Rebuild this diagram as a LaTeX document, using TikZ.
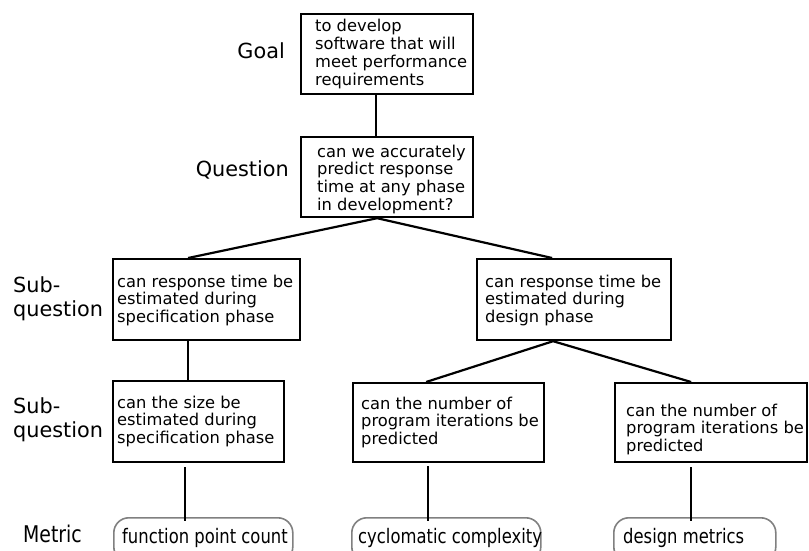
\documentclass[tikz,border=0pt]{standalone}
\usepackage{fontspec}
\setmainfont{DejaVu Sans}
\newfontfamily\narrowfont[FakeStretch=0.82]{DejaVu Sans}
\begin{document}
\begin{tikzpicture}[x=1pt,y=-1pt,
  box/.style={draw, line width=2.2pt, inner sep=0pt, anchor=north west},
  txt/.style={anchor=base west, align=left, inner sep=0pt, font=\fontsize{16.3}{17.8}\selectfont},
  lbl/.style={inner sep=0pt, align=left, font=\fontsize{20.8}{24}\selectfont},
  metric/.style={inner sep=0pt, anchor=base west, font=\narrowfont\fontsize{20}{24}\selectfont},
  oval/.style={draw=black!50, line width=1.6pt, rounded corners=15pt, inner sep=0pt, anchor=north west},
  conn/.style={line width=2.2pt}]
\useasboundingbox (0,0) rectangle (809,551);

% boxes
\node[box, minimum width=172pt, minimum height=80pt] (goal) at (300,13) {};
\node[box, minimum width=172pt, minimum height=80pt] (quest) at (300,136) {};
\node[box, minimum width=187pt, minimum height=81pt] (sq1) at (112,258) {};
\node[box, minimum width=194pt, minimum height=81pt] (sq2) at (476,258) {};
\node[box, minimum width=171pt, minimum height=81pt] (ss1) at (112,380) {};
\node[box, minimum width=191pt, minimum height=79pt] (ss2) at (352,382) {};
\node[box, minimum width=192pt, minimum height=79pt] (ss3) at (614,382) {};

% box texts (anchor at baseline of last line)
\node[txt] (tgoal) at (315,85.4) {to develop\\software that will\\meet performance\\requirements};
\node[txt] (tquest) at (317,210.4) {can we accurately\\predict response\\time at any phase\\in development?};
\node[txt] (tsq1) at (117,322.6) {can response time be\\estimated during\\specification phase};
\node[txt] (tsq2) at (485,322.6) {can response time be\\estimated during\\design phase};
\node[txt] (tss1) at (117,443.6) {can the size be\\estimated during\\specification phase};
\node[txt] (tss2) at (361,444.6) {can the number of\\program iterations be\\predicted};
\node[txt] (tss3) at (626,451.6) {can the number of\\program iterations be\\predicted};

% level labels
\node[lbl, anchor=base east] (lgoal) at (285,59) {Goal};
\node[lbl, anchor=base east] (lquest) at (289,176) {Question};
\node[lbl, anchor=base west] (lsub1) at (13,316) {Sub-\\question};
\node[lbl, anchor=base west] (lsub2) at (13,437) {Sub-\\question};
\node[inner sep=0pt, anchor=base west, font=\narrowfont\fontsize{23}{26}\selectfont] (lmetric) at (23,542) {Metric};

% metric ovals
\node[oval, minimum width=179pt, minimum height=44pt] (o1) at (113,517) {};
\node[oval, minimum width=189pt, minimum height=44pt] (o2) at (351,517) {};
\node[oval, minimum width=162pt, minimum height=44pt] (o3) at (613,517) {};
\node[metric] (m1) at (122,543) {function point count};
\node[metric] (m2) at (358,543) {cyclomatic complexity};
\node[metric] (m3) at (623,543) {design metrics};

% connectors
\draw[conn] ([xshift=-11pt]goal.south) -- ([xshift=-11pt]quest.north);
\draw[conn] ([xshift=-18.5pt]sq1.north) -- ([xshift=-10pt]quest.south) -- ([xshift=-22pt]sq2.north);
\draw[conn] ([xshift=-18.5pt]sq1.south) -- ([xshift=-10.5pt]ss1.north);
\draw[conn] ([xshift=-22.5pt]ss2.north) -- ([xshift=-21pt]sq2.south) -- ([xshift=-20pt]ss3.north);
\coordinate (a1) at ([shift={(-13.5,4)}]ss1.south);
\coordinate (a2) at ([shift={(-20.5,3)}]ss2.south);
\coordinate (a3) at ([shift={(-20,4)}]ss3.south);
\draw[conn] (a1) -- ([yshift=-4pt]a1 |- o1.north);
\draw[conn] (a2) -- ([yshift=-4pt]a2 |- o2.north);
\draw[conn] (a3) -- ([yshift=-4pt]a3 |- o3.north);
\end{tikzpicture}
\end{document}
